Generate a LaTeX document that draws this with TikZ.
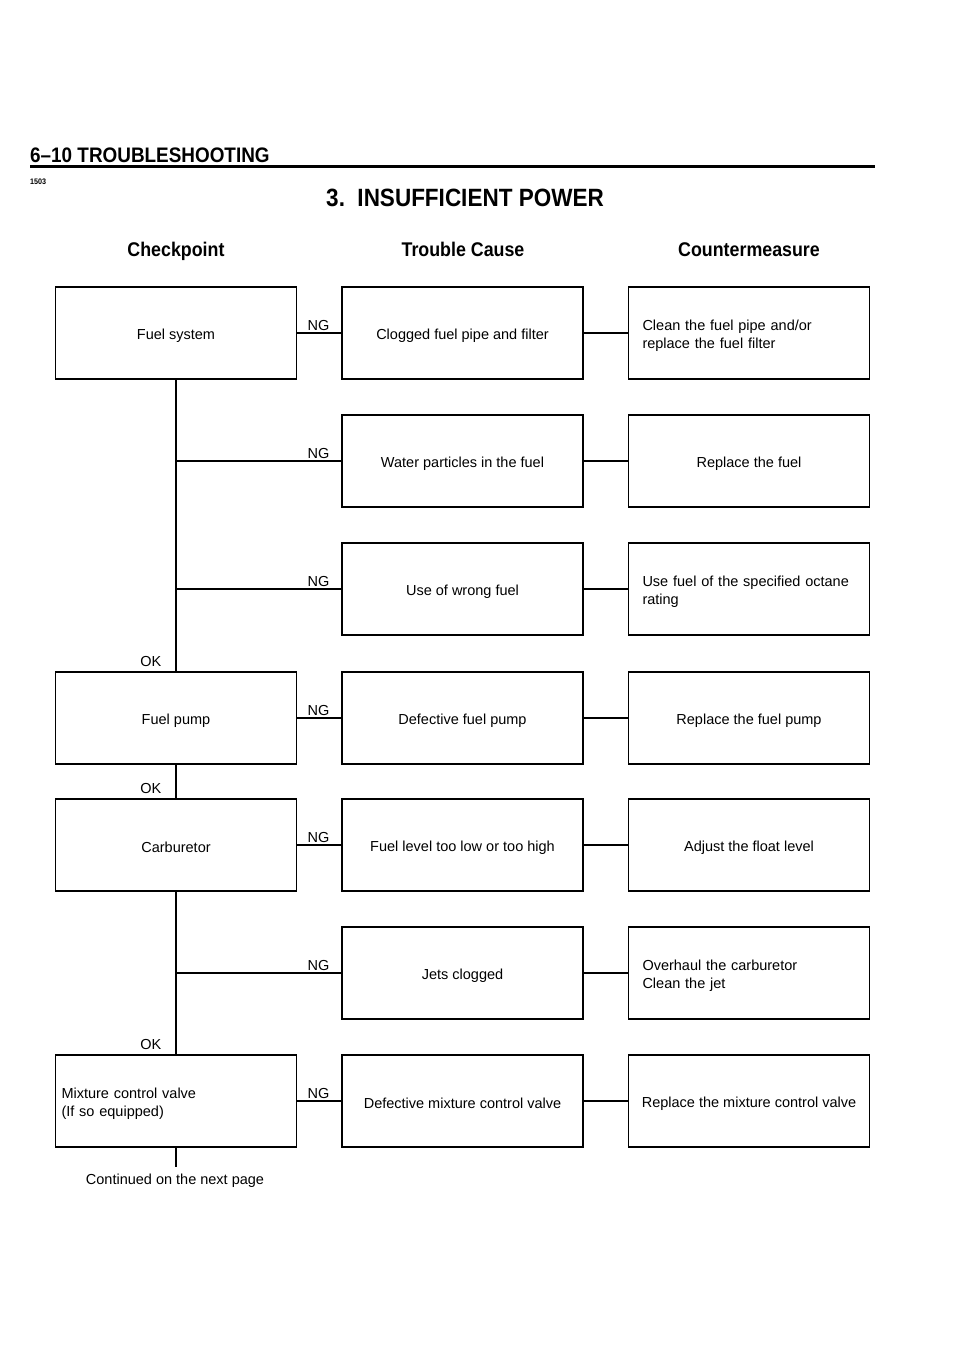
\documentclass[tikz,border=0pt]{standalone}
\usepackage{fontspec}
\setmainfont{Liberation Sans}
\newfontfamily\headfont[FakeStretch=0.9]{Liberation Sans}
\newcommand{\bodyfont}{\fontsize{14.5}{18}\selectfont}
\newcommand{\topstrut}{\rule{0pt}{15.5pt}}
\begin{document}
\begin{tikzpicture}[x=1pt,y=-1pt,
  box/.style={draw, line width=1.1pt, minimum width=241pt, minimum height=92pt,
    inner sep=0pt, font=\bodyfont, align=center, execute at begin node=\topstrut},
  lbox/.style={box, align=left, text width=213pt, inner xsep=14pt},
  lboxnarrow/.style={box, align=left, text width=229pt, inner xsep=6pt},
  conn/.style={line width=1.1pt},
  lab/.style={font=\bodyfont, inner sep=1.5pt},
  colhead/.style={font=\headfont\bfseries\fontsize{19.8}{22}\selectfont, anchor=base}
]
\path[use as bounding box] (0,0) rectangle (960,1354);

% page header
\node[anchor=base west, inner sep=0pt, font=\headfont\bfseries\fontsize{21}{22}\selectfont] (hdr) at (30,162) {6–10 TROUBLESHOOTING};
\draw[line width=3pt] (30,166.5) -- (875,166.5);
\node[anchor=base west, inner sep=0pt, font=\headfont\bfseries\fontsize{8}{9}\selectfont] (num) at (30,184) {1503};
\node[anchor=base, inner sep=0pt, font=\headfont\bfseries\fontsize{25}{28}\selectfont] (title) at (465,206) {3.\ \ INSUFFICIENT POWER};

% column headings
\node[colhead] (h1) at (176,256) {Checkpoint};
\node[colhead] (h2) at (463,256) {Trouble Cause};
\node[colhead] (h3) at (749,256) {Countermeasure};

% checkpoints
\node[box] (fs) at (176,333) {Fuel system};
\node[box] (fp) at (176,718) {Fuel pump};
\node[box] (cb) at (176,845) {Carburetor};
\node[lboxnarrow] (mv) at (176,1101) {Mixture control valve\\(If so equipped)};

% trouble causes
\node[box] (c1) at (462.5,333) {Clogged fuel pipe and filter};
\node[box] (c2) at (462.5,461) {Water particles in the fuel};
\node[box] (c3) at (462.5,589) {Use of wrong fuel};
\node[box] (c4) at (462.5,718) {Defective fuel pump};
\node[box] (c5) at (462.5,845) {Fuel level too low or too high};
\node[box] (c6) at (462.5,973) {Jets clogged};
\node[box] (c7) at (462.5,1101) {Defective mixture control valve};

% countermeasures
\node[lbox] (m1) at (749,333) {Clean the fuel pipe and/or\\replace the fuel filter};
\node[box] (m2) at (749,461) {Replace the fuel};
\node[lbox] (m3) at (749,589) {Use fuel of the specified octane\\rating};
\node[box] (m4) at (749,718) {Replace the fuel pump};
\node[box] (m5) at (749,845) {Adjust the float level};
\node[lbox] (m6) at (749,973) {Overhaul the carburetor\\Clean the jet};
\node[box] (m7) at (749,1101) {Replace the mixture control valve};

% spine (OK path)
\draw[conn] (fs.south) -- (fp.north);
\draw[conn] (fp.south) -- (cb.north);
\draw[conn] (cb.south) -- (mv.north);
\coordinate (endc) at (176,1167);
\draw[conn] (mv.south) -- (endc);
\node[lab, anchor=north, inner sep=0pt] (cont) at (175,1174) {Continued on the next page};

% OK labels
\node[lab, anchor=south east] (ok1) at ([xshift=-13pt,yshift=3pt]fp.north) {OK};
\node[lab, anchor=south east] (ok2) at ([xshift=-13pt,yshift=3pt]cb.north) {OK};
\node[lab, anchor=south east] (ok3) at ([xshift=-13pt,yshift=3pt]mv.north) {OK};

% NG connectors
\draw[conn] (fs.east) -- (c1.west);
\draw[conn] (fs.south |- c2.west) -- (c2.west);
\draw[conn] (fs.south |- c3.west) -- (c3.west);
\draw[conn] (fp.east) -- (c4.west);
\draw[conn] (cb.east) -- (c5.west);
\draw[conn] (cb.south |- c6.west) -- (c6.west);
\draw[conn] (mv.east) -- (c7.west);
\foreach \c in {c1,c2,c3,c4,c5,c6,c7}{
  \node[lab, anchor=south] at ([xshift=-23pt,yshift=1pt]\c.west) {NG};
}

% cause -> countermeasure
\draw[conn] (c1.east) -- (m1.west);
\draw[conn] (c2.east) -- (m2.west);
\draw[conn] (c3.east) -- (m3.west);
\draw[conn] (c4.east) -- (m4.west);
\draw[conn] (c5.east) -- (m5.west);
\draw[conn] (c6.east) -- (m6.west);
\draw[conn] (c7.east) -- (m7.west);
\end{tikzpicture}
\end{document}
